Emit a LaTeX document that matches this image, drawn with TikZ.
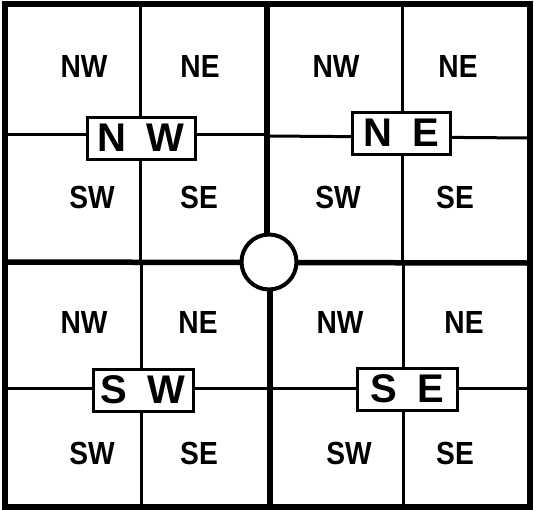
\documentclass[tikz,border=0pt]{standalone}
\usepackage{fontspec}
\setmainfont{Liberation Sans}
\newfontfamily\labfont[FakeStretch=0.88]{Liberation Sans}
\begin{document}
\begin{tikzpicture}[x=1pt,y=-1pt,
  thickline/.style={line width=5.5pt},
  thinline/.style={line width=3pt},
  lab/.style={font=\labfont\bfseries\fontsize{32}{32}\selectfont, inner sep=0pt},
  bigbox/.style={draw, line width=3pt, fill=white, minimum height=42pt, inner sep=0pt,
     font=\bfseries\fontsize{40}{40}\selectfont}]
\useasboundingbox (0,0) rectangle (534,509);
% inner lines
\draw[thinline] (140,5) -- (140,262);
\draw[thinline] (5,134) -- (268,134);
\draw[thinline] (402,5) -- (402,262);
\draw[thinline] (268,136) -- (530,138);
\draw[thinline] (141,262) -- (141,507);
\draw[thinline] (5,388) -- (268,388);
\draw[thinline] (403,262) -- (403,507);
\draw[thinline] (268,388) -- (530,388);
% middle lines
\draw[thickline] (267,4) -- (267,262);
\draw[thickline] (270,262) -- (270,507);
\draw[thickline] (5,262) -- (530,263);
% frame
\draw[line width=5.5pt] (5,4) rectangle (530,507);
% circle
\node[circle, draw, line width=4pt, fill=white, minimum size=55pt, inner sep=0pt] (c) at (269,262) {};
% big boxes
\node[bigbox, minimum width=108pt] (bnw) at (141,138) {N\,\,\,W};
\node[bigbox, minimum width=98pt] (bne) at (401,133) {N\,\,\,E};
\node[bigbox, minimum width=100pt] (bsw) at (143,390) {S\,\,\,W};
\node[bigbox, minimum width=100pt] (bse) at (407,389) {S\,\,\,E};
% small labels
\node[lab] (a1) at (84,66) {NW};
\node[lab] (a2) at (200,66) {NE};
\node[lab] (a3) at (92,197) {SW};
\node[lab] (a4) at (199,197) {SE};
\node[lab] (b1) at (336,66) {NW};
\node[lab] (b2) at (458,66) {NE};
\node[lab] (b3) at (338,197) {SW};
\node[lab] (b4) at (455,197) {SE};
\node[lab] (c1) at (84,322) {NW};
\node[lab] (c2) at (198,322) {NE};
\node[lab] (c3) at (92,453) {SW};
\node[lab] (c4) at (199,453) {SE};
\node[lab] (d1) at (340,322) {NW};
\node[lab] (d2) at (464,322) {NE};
\node[lab] (d3) at (349,453) {SW};
\node[lab] (d4) at (455,453) {SE};
\end{tikzpicture}
\end{document}
